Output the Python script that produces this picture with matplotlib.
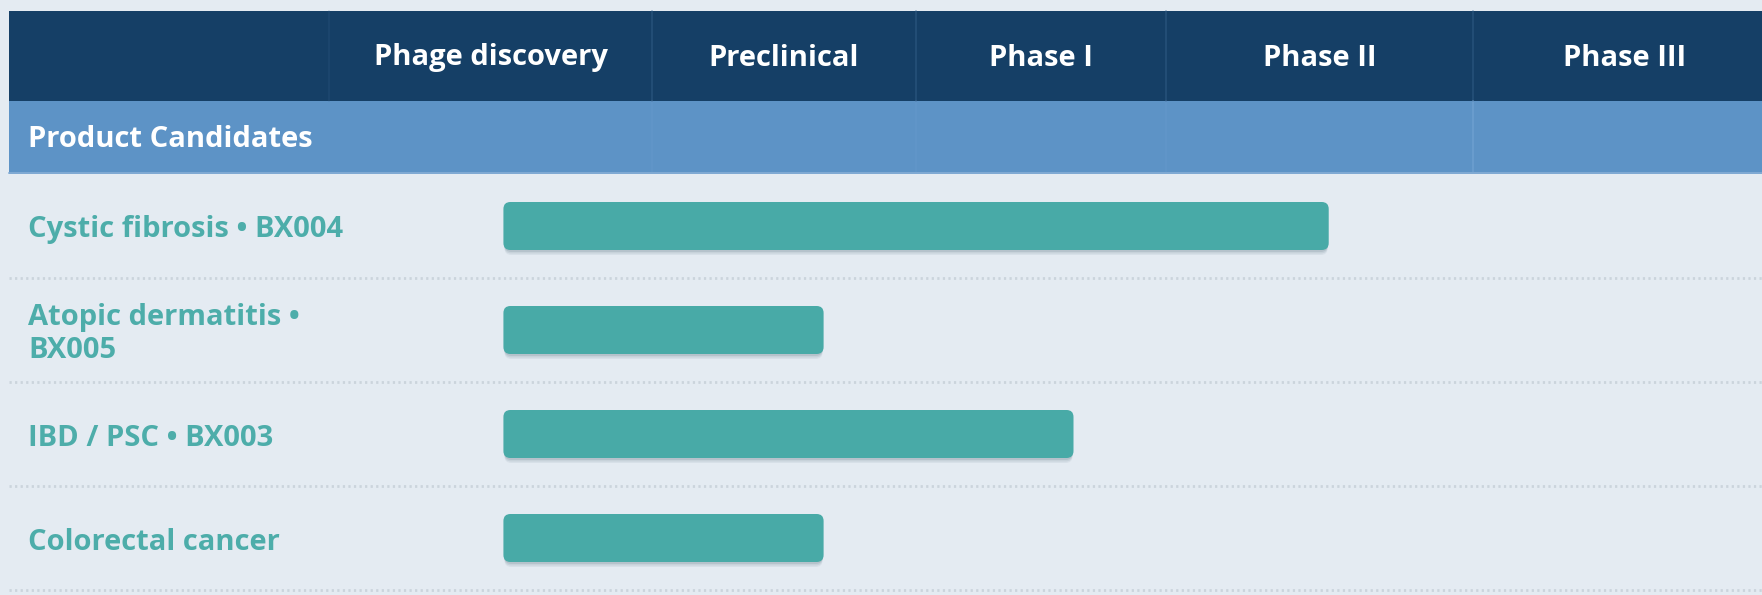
import matplotlib.pyplot as plt
from matplotlib.patches import FancyBboxPatch, Rectangle
import numpy as np

plt.rcParams['font.family'] = ['Open Sans', 'DejaVu Sans']

phases = ["Phage discovery", "Preclinical", "Phase I", "Phase II", "Phase III"]
candidates = ["Cystic fibrosis \u2022 BX004", "Atopic dermatitis \u2022\nBX005",
              "IBD / PSC \u2022 BX003", "Colorectal cancer"]
section = "Product Candidates"
# progress in phase units: 0 = start of Phage discovery, 1 = start of Preclinical, ...
bar_start = [0.54, 0.54, 0.54, 0.54]
bar_end = [3.53, 1.65, 2.63, 1.65]

W, H = 1762, 595
bg = "#e4ebf2"
navy = "#153f66"
band = "#5d93c6"
teal = "#48aaa7"
label_col = "#4dadaa"

# layout (pixels)
col_edges = [329, 652, 916, 1166, 1473, 1777]
left = 9
head_top, head_bot, band_bot = 11, 101, 174
row_h = 104
bar_h = 48
fs = 21

fig = plt.figure(figsize=(W / 100, H / 100), dpi=100)
fig.patch.set_facecolor(bg)
ax = fig.add_axes([0, 0, 1, 1])
ax.set_xlim(0, W)
ax.set_ylim(H, 0)
ax.axis("off")

ax.add_patch(Rectangle((left, head_top), W - left, head_bot - head_top, color=navy, lw=0))
ax.add_patch(Rectangle((left, head_bot), W - left, band_bot - head_bot, color=band, lw=0))
ax.plot([left, W], [band_bot - 1, band_bot - 1], color="#86aed6", lw=1.2)

# column dividers
for i, x in enumerate(col_edges[:-1]):
    a = 0.2 if i == 0 else 0.45
    ax.plot([x, x], [head_top, head_bot], color="#3a6690", lw=1.2, alpha=a)
    if i > 0:
        ax.plot([x, x], [head_bot, band_bot - 2], color="#7aaad8", lw=1.2,
                alpha=0.5 if i == 4 else 0.15)

for i, name in enumerate(phases):
    cx = (col_edges[i] + col_edges[i + 1]) / 2
    ax.text(cx, (head_top + head_bot) / 2 + 2, name, color="white", fontsize=fs,
            fontweight="bold", ha="center", va="center")

ax.text(28, (head_bot + band_bot) / 2 + 2, section, color="white", fontsize=fs,
        fontweight="bold", ha="left", va="center")

edge_idx = np.arange(len(col_edges))
for i, name in enumerate(candidates):
    top = band_bot + i * row_h
    cy = top + row_h / 2
    ax.text(28, cy + 4, name, color=label_col, fontsize=fs, fontweight="bold",
            ha="left", va="center", linespacing=1.22)

    x0 = np.interp(bar_start[i], edge_idx, col_edges)
    x1 = np.interp(bar_end[i], edge_idx, col_edges)
    y0 = cy - bar_h / 2
    # soft shadow
    for k, al in [(5, 0.10), (3.5, 0.15), (2, 0.2)]:
        ax.add_patch(FancyBboxPatch((x0 + 1, y0 + k), x1 - x0 - 2, bar_h,
                                    boxstyle="round,pad=0,rounding_size=7",
                                    fc="#6e8390", ec="none", alpha=al))
    ax.add_patch(FancyBboxPatch((x0, y0), x1 - x0, bar_h,
                                boxstyle="round,pad=0,rounding_size=7",
                                fc=teal, ec="none"))

    ax.plot([left, W], [top + row_h, top + row_h], color="#cbd4dc", lw=2,
            ls=(0, (0.8, 1.2)))

fig.savefig("out.png", dpi=100, facecolor=bg)
